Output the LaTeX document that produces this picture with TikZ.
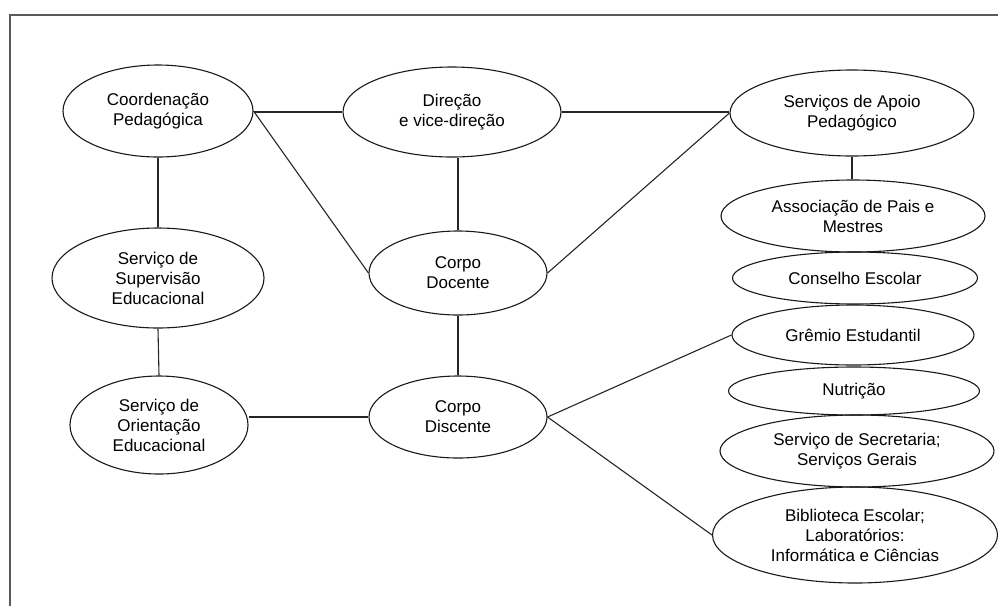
\documentclass[tikz,border=0pt]{standalone}
\usepackage{fontspec}
\setmainfont{Liberation Sans}
\usetikzlibrary{shapes.geometric}
\begin{document}
\begin{tikzpicture}[x=1pt,y=-1pt,
  ov/.style={draw=black!90, ellipse, line width=1.1pt, inner sep=0pt, align=center,
    font=\fontsize{17}{20}\selectfont},
  conn/.style={draw=black!85, line width=1.1pt}]
\useasboundingbox (0,0) rectangle (998,606);
\draw[line width=2pt, color=black!65] (10,606) -- (10,15) -- (998,15);

\node[ov, minimum width=190, minimum height=92] (coord) at (158,111) {Coordenação\\Pedagógica};
\node[ov, minimum width=218, minimum height=90] (dir) at (452,112) {Direção\\e vice-direção};
\node[ov, minimum width=244, minimum height=86] (apoio) at (852,113) {Serviços de Apoio\\Pedagógico};
\node[ov, minimum width=264, minimum height=72] (assoc) at (853,216) {Associação de Pais e\\Mestres};
\node[ov, minimum width=245, minimum height=52] (cons) at (855,278) {Conselho Escolar};
\node[ov, minimum width=242, minimum height=60] (gremio) at (853,335) {Grêmio Estudantil};
\node[ov, minimum width=251, minimum height=48] (nutri) at (854,391) {Nutrição};
\node[ov, minimum width=274, minimum height=72] (secr) at (857,451) {Serviço de Secretaria;\\Serviços Gerais};
\node[ov, minimum width=285, minimum height=96] (bib) at (855,535) {Biblioteca Escolar;\\Laboratórios:\\Informática e Ciências};
\node[ov, minimum width=212, minimum height=100] (superv) at (158,278) {Serviço de\\Supervisão\\Educacional};
\node[ov, minimum width=178, minimum height=84] (doc) at (458,273) {Corpo\\Docente};
\node[ov, minimum width=178, minimum height=98] (orient) at (159,425) {Serviço de\\Orientação\\Educacional};
\node[ov, minimum width=178, minimum height=82] (disc) at (458,417) {Corpo\\Discente};

\draw[conn] (dir.west) -- (dir.west -| coord.east);
\draw[conn] (coord.east) -- (doc.west);
\draw[conn] (coord.south) -- (superv.north);
\draw[conn] (superv.south) -- (orient.north);
\draw[conn] (disc.west) -- (disc.west -| orient.east);
\draw[conn] (doc.north) -- (doc.north |- dir.south);
\draw[conn] (doc.south) -- (disc.north);
\draw[conn] (dir.east) -- (dir.east -| apoio.west);
\draw[conn] (doc.east) -- (apoio.west);
\draw[conn] (apoio.south) -- (apoio.south |- assoc.north);
\draw[conn] (disc.east) -- (gremio.west);
\draw[conn] (disc.east) -- (bib.west);
\end{tikzpicture}
\end{document}
